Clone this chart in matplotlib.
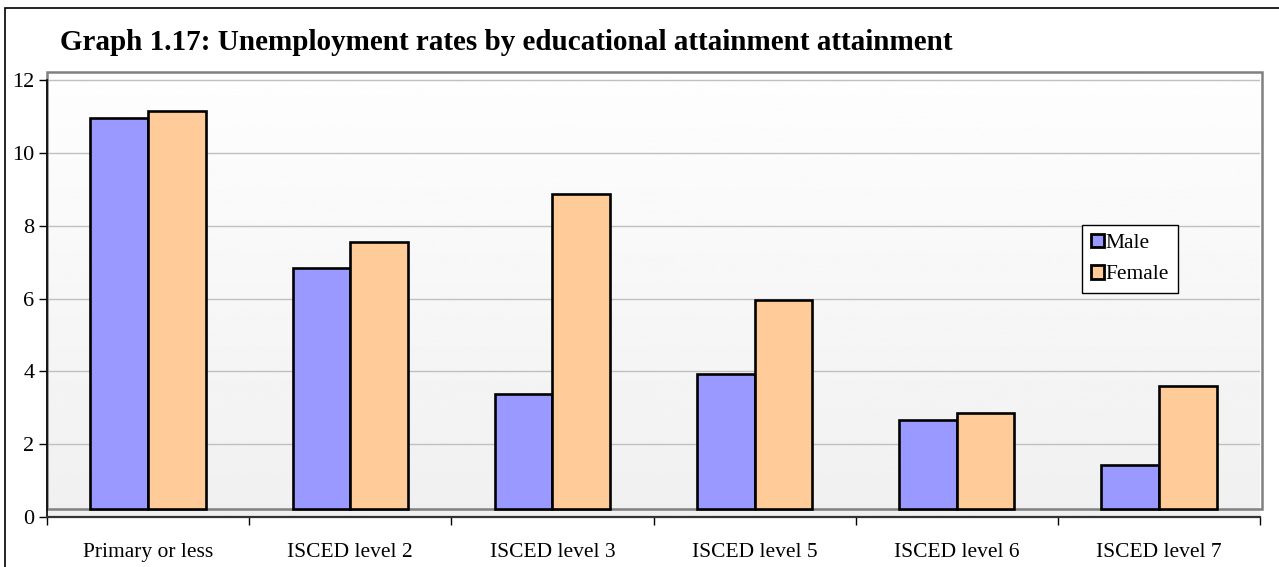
import numpy as np
import matplotlib as mpl
mpl.use('Agg')
import matplotlib.pyplot as plt
import matplotlib.ticker as tick
from matplotlib.patches import Rectangle

categories = ["Primary or less", "ISCED level 2", "ISCED level 3",
              "ISCED level 5", "ISCED level 6", "ISCED level 7"]
male   = [10.95, 6.85, 3.38, 3.93, 2.66, 1.43]
female = [11.15, 7.56, 8.88, 5.96, 2.85, 3.60]

plt.rcParams['font.family'] = ['Liberation Serif', 'DejaVu Serif']

fig = plt.figure(figsize=(12.79, 5.67), dpi=100)
W, H = 1279.0, 567.0
ax = fig.add_axes([47/W, (H-517)/H, (1260-47)/W, (517-72)/H])

floor = 0.22   # back wall sits a little above the axis line
top   = 12.22
ax.set_xlim(-0.5, 5.5)
ax.set_ylim(0, top)

# wall gradient, near white at the top fading to light grey
grad = np.linspace(0.94, 0.995, 256).reshape(-1, 1)
ax.imshow(grad, extent=(-0.5, 5.51, 0, top), origin='lower', aspect='auto',
          cmap='gray', vmin=0, vmax=1, zorder=0)

for v in range(2, 13, 2):
    ax.axhline(v, color='#c0c0c0', linewidth=1.0, zorder=1)

ax.add_patch(Rectangle((-0.5, floor), 6.01, top-floor, fill=False,
                       edgecolor='#808080', linewidth=1.8, zorder=2, clip_on=False))

x = np.arange(len(categories))
bw = 0.285
ax.bar(x-bw/2, np.array(male)-floor, bw, bottom=floor, color='#9999ff',
       edgecolor='black', linewidth=1.9, label='Male', zorder=3)
ax.bar(x+bw/2, np.array(female)-floor, bw, bottom=floor, color='#ffcc99',
       edgecolor='black', linewidth=1.9, label='Female', zorder=3)

for s in ['top', 'right']:
    ax.spines[s].set_visible(False)
ax.spines['left'].set_bounds(0, 12)
ax.spines['left'].set_linewidth(1.2)
ax.spines['bottom'].set_linewidth(1.6)
ax.spines['bottom'].set_color('#333333')

ax.set_yticks(range(0, 13, 2))
ax.tick_params(axis='y', direction='out', length=6, width=1.0, labelsize=16, pad=3)

ax.set_xticks(np.arange(-0.5, 6.0, 1.0))
ax.set_xticklabels([])
ax.xaxis.set_minor_locator(tick.FixedLocator(x))
ax.xaxis.set_minor_formatter(tick.FixedFormatter(categories))
ax.tick_params(axis='x', which='major', direction='out', length=6, width=1.0)
ax.tick_params(axis='x', which='minor', length=0, labelsize=15.5, pad=19)

leg = ax.legend(loc='upper left', bbox_to_anchor=(1082/W, (H-225)/H),
                bbox_transform=fig.transFigure, fontsize=15.5, frameon=True,
                fancybox=False, handlelength=0.6, handleheight=0.6,
                handletextpad=0.1, labelspacing=0.55, borderpad=0.4,
                borderaxespad=0)
leg.get_frame().set_edgecolor('black')
leg.get_frame().set_linewidth(1.0)
leg.get_frame().set_alpha(1)
for h in leg.legend_handles:
    h.set_linewidth(2.0)

fig.text(60/W, 1-42/H, "Graph 1.17: Unemployment rates by educational attainment attainment",
         fontsize=21, fontweight='bold', va='center', ha='left')

# outer border of the chart object
fig.add_artist(Rectangle((5/W, -0.01), 1.01, 1-7.5/H+0.01, transform=fig.transFigure,
                         fill=False, edgecolor='black', linewidth=1.2))

plt.savefig('out.png', dpi=100)
